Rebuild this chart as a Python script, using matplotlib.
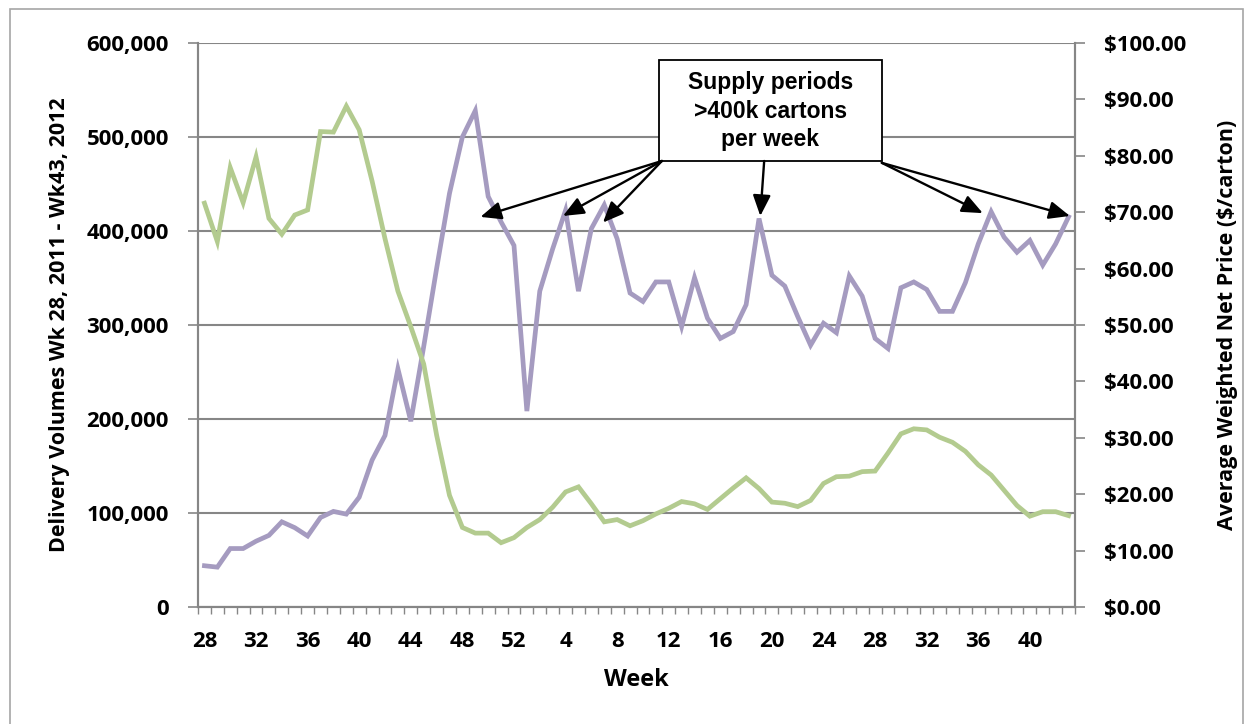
import matplotlib
matplotlib.use("Agg")
import matplotlib.pyplot as plt
from matplotlib.ticker import FixedLocator, FuncFormatter, MultipleLocator
from matplotlib.patches import Rectangle

# ---- data ----
weeks = list(range(28, 53)) + list(range(1, 44))
volumes = [43.9, 42.4, 62.2, 62.2, 70.0, 76.2, 90.6, 84.4, 75.5, 95.2,
           101.7, 98.8, 116.8, 156.3, 182.5, 253.4, 197.6, 277, 360, 440,
           500, 528, 436.7, 409.7, 384.6, 208.4, 336, 381, 422, 336,
           402.5, 427.7, 391.7, 334, 325, 345.8, 345.8, 298.3, 350.4, 307.3,
           285.7, 293, 321.6, 413.3, 352.9, 341.4, 309, 278.5, 301.9, 291.8,
           352.2, 330.7, 285.7, 275, 339.6, 345.8, 337.8, 314.5, 314.5, 345,
           386.3, 420.5, 393.5, 377.4, 390, 363.7, 386.3, 415]
volumes = [v * 1000 for v in volumes]
prices = [71.6, 64.8, 77.9, 71.7, 79.8, 68.9, 66.1, 69.5, 70.4, 84.3,
          84.2, 88.8, 84.6, 75.5, 65.3, 56.0, 49.7, 43.1, 30.5, 19.8,
          14.1, 13.1, 13.1, 11.4, 12.3, 14.1, 15.5, 17.7, 20.4, 21.3,
          18.3, 15.1, 15.5, 14.4, 15.3, 16.5, 17.5, 18.7, 18.3, 17.3,
          19.2, 21.1, 22.9, 21.0, 18.6, 18.4, 17.8, 18.9, 21.9, 23.1,
          23.2, 24.0, 24.1, 27.3, 30.7, 31.6, 31.4, 30.1, 29.2, 27.6,
          25.2, 23.4, 20.7, 18.0, 16.1, 16.9, 16.9, 16.2]
annotation_text = "Supply periods\n>400k cartons\nper week"
# arrow targets (category index, volume)
arrow_targets = [(21.4, 415000), (27.8, 416000), (30.9, 409000),
                 (43.1, 416000), (60.35, 419000), (67.1, 416000)]
arrow_starts = [(35.47, 474500), (35.47, 474500), (35.47, 474500),
                (43.4, 474500), (52.52, 472500), (52.52, 472500)]

PURPLE = "#A59BC0"
GREEN = "#B3CB8F"
AXCOL = "#868686"
FONT = "Open Sans"

fig = plt.figure(figsize=(12.53, 7.24), dpi=100)
W, H = 1253, 724
ax1 = fig.add_axes([198 / W, 117 / H, 877 / W, 564 / H])
ax2 = ax1.twinx()

x = list(range(len(weeks)))
ax1.plot(x, volumes, color=PURPLE, lw=3.4, solid_joinstyle="miter", zorder=3)
ax2.plot(x, prices, color=GREEN, lw=3.4, solid_joinstyle="miter", zorder=3)

ax1.set_xlim(-0.5, len(weeks) - 0.5)
ax1.set_ylim(0, 600000)
ax2.set_ylim(0, 100)

# x ticks
label_pos = list(range(0, len(weeks), 4))
ax1.xaxis.set_major_locator(FixedLocator(label_pos))
ax1.set_xticklabels([str(weeks[i]) for i in label_pos])
ax1.xaxis.set_minor_locator(FixedLocator([i - 0.5 for i in range(len(weeks) + 1)]))
ax1.tick_params(axis="x", which="major", length=0, pad=17)
ax1.tick_params(axis="x", which="minor", length=5, color=AXCOL, width=1)

# left y
ax1.yaxis.set_major_locator(MultipleLocator(100000))
ax1.yaxis.set_major_formatter(FuncFormatter(lambda v, p: f"{int(v):,}"))
ax1.tick_params(axis="y", length=7, color=AXCOL, width=1.2, pad=14)
ax1.grid(axis="y", color=AXCOL, lw=1.5, zorder=0)
ax1.set_axisbelow(True)

# right y
ax2.yaxis.set_major_locator(MultipleLocator(10))
ax2.yaxis.set_major_formatter(FuncFormatter(lambda v, p: f"${v:.2f}"))
ax2.tick_params(axis="y", length=7, color=AXCOL, width=1.2, pad=14)

for ax in (ax1, ax2):
    ax.spines["top"].set_visible(False)
    for s in ("left", "right", "bottom"):
        ax.spines[s].set_color(AXCOL)
        ax.spines[s].set_linewidth(1.5)

for lab in ax1.get_yticklabels() + ax2.get_yticklabels() + ax1.get_xticklabels():
    lab.set_family(FONT); lab.set_weight("bold"); lab.set_size(16)

ax1.set_xlabel("Week", family=FONT, weight="bold", fontsize=17, labelpad=12)
ax1.set_ylabel("Delivery Volumes Wk 28, 2011 - Wk43, 2012", family=FONT,
               weight="bold", fontsize=15.5, labelpad=12)
ax2.set_ylabel("Average Weighted Net Price ($/carton)", family=FONT,
               weight="bold", fontsize=15.5, labelpad=22)

# annotation box
bx0, bx1 = 35.24, 52.52
by0, by1 = 474500, 582000
ax2.add_patch(Rectangle((bx0, by0), bx1 - bx0, by1 - by0, transform=ax1.transData,
                        fc="white", ec="black", lw=1.3, zorder=5))
ax2.text((bx0 + bx1) / 2, 527500, annotation_text, transform=ax1.transData,
         ha="center", va="center", family="Liberation Sans", weight="bold",
         fontsize=16.5, linespacing=1.3, zorder=6)
for (sx, sy), (tx, ty) in zip(arrow_starts, arrow_targets):
    ax2.annotate("", xy=(tx, ty), xytext=(sx, sy), xycoords=ax1.transData,
                 textcoords=ax1.transData,
                 arrowprops=dict(arrowstyle="-|>,head_length=0.42,head_width=0.18",
                                 mutation_scale=30, lw=1.7,
                                 color="black", shrinkA=0, shrinkB=0),
                 zorder=6)

# outer frame
fig.patches.append(Rectangle((10 / W, -0.01), (1243 - 10) / W, (724 - 9) / H + 0.01,
                             transform=fig.transFigure, fill=False,
                             ec="#A6A6A6", lw=1.2))

fig.savefig("out.png", dpi=100)
